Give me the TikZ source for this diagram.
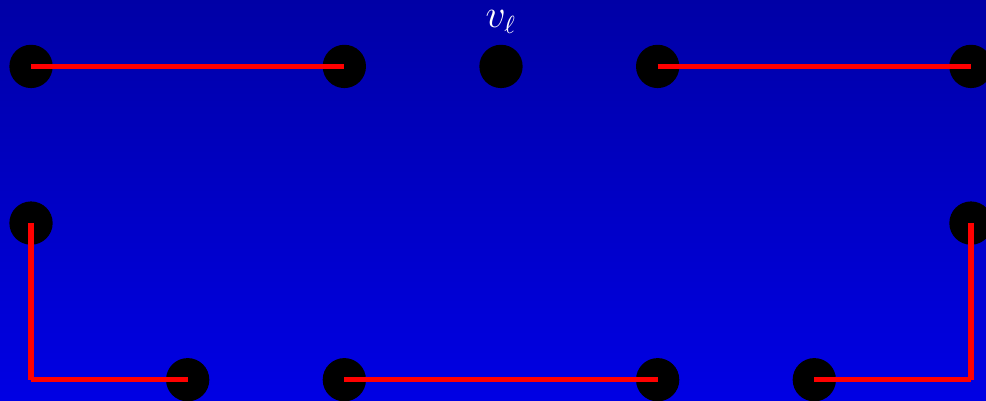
\documentclass[tikz,border=0pt]{standalone}
\usepackage{tikz}
\usetikzlibrary{positioning, calc}
\definecolor{bgtop}{RGB}{0,0,166}
\definecolor{bgbot}{RGB}{0,0,228}

\begin{document}
\begin{tikzpicture}[x=2cm, y=2cm,
    dot/.style={circle, fill=black, inner sep=0pt, minimum size=0.553cm},
    path/.style={draw=red, line width=2pt}]
    % Nền
    \shade[top color=bgtop, bottom color=bgbot] (-0.198, -0.134) rectangle (6.096, 2.424);
    \useasboundingbox (-0.198, -0.134) rectangle (6.096, 2.424);

    % Hàng trên
    \node[dot] (t0) at (0, 2) {};
    \node[dot] (t2) at (2, 2) {};
    \node[dot] (t3) at (3, 2) {};
    \node[dot] (t4) at (4, 2) {};
    \node[dot] (t6) at (6, 2) {};
    \node[text=white, anchor=base, inner sep=0pt, font=\fontsize{13.5}{16}\selectfont]
        (lbl) at ($(t3.center)+(0,0.5cm)$) {$v_\ell$};

    % Hàng giữa
    \node[dot] (m0) at (0, 1) {};
    \node[dot] (m6) at (6, 1) {};

    % Hàng dưới
    \node[dot] (b1) at (1, 0) {};
    \node[dot] (b2) at (2, 0) {};
    \node[dot] (b4) at (4, 0) {};
    \node[dot] (b5) at (5, 0) {};
    \coordinate (c0) at (0, 0);
    \coordinate (c6) at (6, 0);

    % Đường đỏ
    \draw[path] (t0.center) -- (t2.center);
    \draw[path] (t4.center) -- (t6.center);
    \draw[path] (m0.center) -- (c0);
    \draw[path] (c0) -- (b1.center);
    \draw[path] (b2.center) -- (b4.center);
    \draw[path] (b5.center) -- (c6);
    \draw[path] (c6) -- (m6.center);
\end{tikzpicture}
\end{document}
